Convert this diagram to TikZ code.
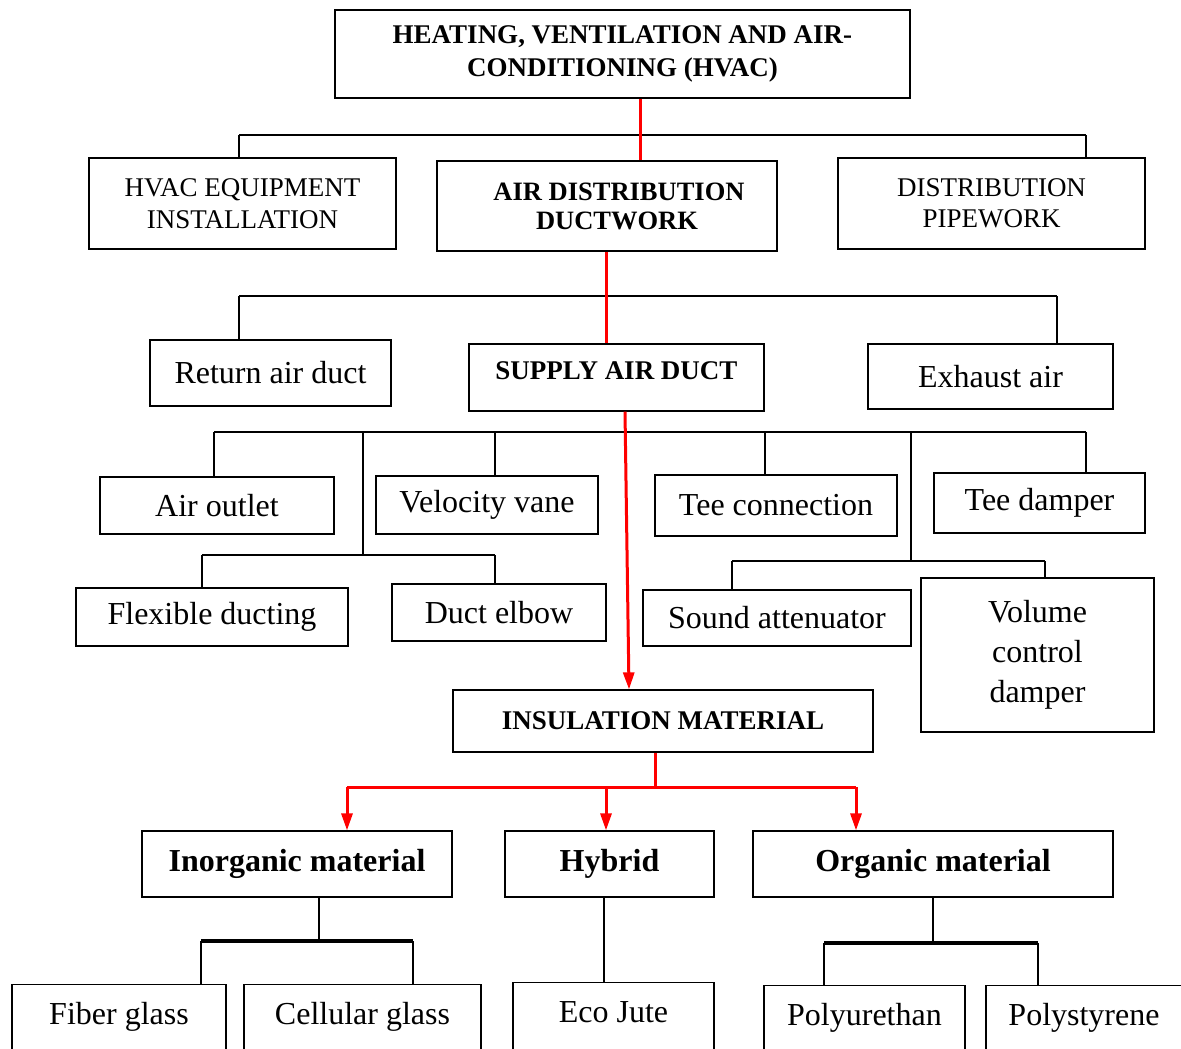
\documentclass[tikz,border=0pt]{standalone}
\usepackage{fontspec}
\setmainfont{Liberation Serif}
\usetikzlibrary{arrows.meta}

\tikzset{
  box/.style={draw=black, line width=1.2pt, inner sep=2pt, align=center, font=\fontsize{32}{40}\selectfont},
  capsbox/.style={box, font=\fontsize{27}{32}\selectfont},
  headbox/.style={box, font=\bfseries\fontsize{27}{33}\selectfont},
  bigbold/.style={box, font=\bfseries\fontsize{32}{36}\selectfont},
  sz/.style 2 args={minimum width=#1pt, minimum height=#2pt},
  bus/.style={black, line width=2.8pt},
  stem/.style={black, line width=1.9pt},
  redline/.style={red, line width=3pt},
}

\begin{document}
\begin{tikzpicture}[x=1pt, y=-1pt, >={Triangle[length=17pt, width=11pt]}]
\useasboundingbox (0,0) rectangle (1181,1049);
\fill[white] (0,0) rectangle (1181,1049);
\clip (0,0) rectangle (1181,1049);

% top levels
\node[headbox, sz={575}{88}] (hvac) at (622.5,54) {HEATING, VENTILATION AND AIR-\\CONDITIONING (HVAC)};
\node[capsbox, sz={307}{91}] (equip) at (242.5,203.5) {HVAC EQUIPMENT\\INSTALLATION};
\node[headbox, font=\bfseries\fontsize{26.5}{29}\selectfont, sz={340}{90}] (duct) at (607,206) {\hspace*{24pt}AIR DISTRIBUTION\\\hspace*{20pt}DUCTWORK};
\node[capsbox, font=\fontsize{27}{31}\selectfont, sz={307}{91}] (pipe) at (991.5,203.5) {DISTRIBUTION\\PIPEWORK};

\node[box, sz={241}{66}] (ret) at (270.5,373) {Return air duct};
\node[headbox, sz={295}{67}, text depth=13pt] (supply) at (616.5,377.5) {SUPPLY AIR DUCT};
\node[box, sz={245}{65}] (exh) at (990.5,376.5) {Exhaust air};

% duct parts
\node[box, sz={234}{57}] (outlet) at (217,505.5) {Air outlet};
\node[box, sz={222}{58}] (vane) at (487,505) {Velocity vane};
\node[box, sz={242}{61}] (tee) at (776,505.5) {Tee connection};
\node[box, sz={211}{60}] (teedamp) at (1039.5,503) {Tee damper};
\node[box, sz={272}{58}] (flex) at (212,617) {Flexible ducting};
\node[box, sz={214}{57}] (elbow) at (499,612.5) {Duct elbow};
\node[box, sz={268}{56}] (sound) at (777,618) {Sound attenuator};
\node[box, sz={233}{154}] (vcd) at (1037.5,655) {Volume\\control\\damper};

% insulation
\node[headbox, sz={420}{62}] (insul) at (663,721) {INSULATION MATERIAL};
\node[bigbold, sz={310}{66}] (inorg) at (297,864) {Inorganic material};
\node[bigbold, sz={209}{66}] (hybrid) at (609.5,864) {Hybrid};
\node[bigbold, sz={360}{66}] (organic) at (933,864) {Organic material};

\foreach \name/\x/\y/\w/\txt in {fiber/119/984/214/Fiber glass, cellular/362.5/984/237/Cellular glass, jute/613.5/982/201/Eco Jute, purethan/864.5/985/201/Polyurethan, pstyrene/1084/985/196/Polystyrene}
  \node[box, anchor=north, sz={\w}{80}, text height=22pt, text depth=22pt] (\name) at (\x,\y) {\txt};

% black buses
\draw[bus] (239,135) -- (1086,135);
\foreach \n/\x in {equip/239, pipe/1086}
  \draw[stem] (\x,135) -- (\n.north -| \x,0);
\draw[bus] (239,296) -- (1057,296);
\foreach \n/\x in {ret/239, exh/1057}
  \draw[stem] (\x,296) -- (\n.north -| \x,0);
\draw[bus] (214,432) -- (1086,432);
\foreach \n/\x in {outlet/214, vane/495, tee/765, teedamp/1086}
  \draw[stem] (\x,432) -- (\n.north -| \x,0);
\draw[stem] (363,432) -- (363,555);
\draw[stem] (911,432) -- (911,561);
\draw[bus] (202,555) -- (495,555);
\foreach \n/\x in {flex/202, elbow/495}
  \draw[stem] (\x,555) -- (\n.north -| \x,0);
\draw[bus] (732,561) -- (1045,561);
\foreach \n/\x in {sound/732, vcd/1045}
  \draw[stem] (\x,561) -- (\n.north -| \x,0);

\draw[stem, line width=2.6pt] (inorg.south -| 319,0) -- (319,941);
\draw[bus, line width=4pt] (201,941) -- (413,941);
\foreach \n/\x in {fiber/201, cellular/413}
  \draw[stem, line width=2.6pt] (\x,941) -- (\n.north -| \x,0);
\draw[stem, line width=2.6pt] (hybrid.south -| 604,0) -- (jute.north -| 604,0);
\draw[stem, line width=2.6pt] (organic.south -| 933,0) -- (933,943);
\draw[bus, line width=4pt] (824,943) -- (1038,943);
\foreach \n/\x in {purethan/824, pstyrene/1038}
  \draw[stem, line width=2.6pt] (\x,943) -- (\n.north -| \x,0);

% red path
\draw[redline] (hvac.south -| 640,0) -- (duct.north -| 640,0);
\draw[redline] (duct.south -| 606,0) -- (supply.north -| 606,0);
\draw[redline, ->] (supply.south -| 625,0) -- (insul.north -| 629,0);
\draw[redline] (insul.south -| 655,0) -- (655,787);
\draw[redline] (347,787) -- (856,787);
\foreach \n/\x in {inorg/347, hybrid/606, organic/856}
  \draw[redline, ->] (\x,787) -- (\n.north -| \x,0);
\end{tikzpicture}
\end{document}
